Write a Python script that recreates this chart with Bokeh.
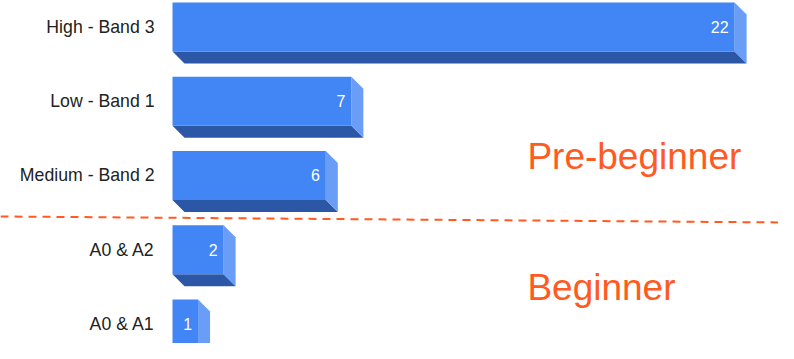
from bokeh.plotting import figure
from bokeh.models import Range1d, ColumnDataSource
from bokeh.core.properties import value
from bokeh.embed import file_html
from bokeh.resources import INLINE

# ---- data ----
categories = ["High - Band 3", "Low - Band 1", "Medium - Band 2", "A0 & A2", "A0 & A1"]
counts = [22, 7, 6, 2, 1]
group_labels = ["Pre-beginner", "Beginner"]

# ---- style ----
FRONT = "#4285F4"
BOTTOM = "#2B57A6"
SIDE = "#699DF6"
ORANGE = "#FF5A1F"
FONT = "Liberation Sans"
H = 0.33      # half height of the front face (row units)
DX = 0.47     # depth in value units
DY = 0.162    # depth in row units
X0, X1 = -6.732, 23.718

W, HGT = 778, 343
p = figure(width=W, height=HGT, output_backend="svg", toolbar_location=None,
           x_range=Range1d(X0, X1), y_range=Range1d(4.263, -0.357),
           min_border=0, outline_line_color=None, background_fill_color="white",
           border_fill_color="white")
p.axis.visible = False
p.grid.visible = False

rows = list(range(len(categories)))

# bottom and side faces
bxs, bys, sxs, sys_ = [], [], [], []
for i, v in zip(rows, counts):
    bxs.append([0, v, v + DX, DX])
    bys.append([i + H, i + H, i + H + DY, i + H + DY])
    sxs.append([v, v + DX, v + DX, v])
    sys_.append([i - H, i - H + DY, i + H + DY, i + H])
p.patches(bxs, bys, fill_color=BOTTOM, line_color=None)
p.patches(sxs, sys_, fill_color=SIDE, line_color=None)

src = ColumnDataSource(dict(cat=categories, v=counts, y=rows,
                            top=[i - H for i in rows], bottom=[i + H for i in rows],
                            lbl=[str(c) for c in counts], zero=[0] * len(rows)))
p.quad(left="zero", right="v", top="top", bottom="bottom", source=src,
       fill_color=FRONT, line_color=None)

# value labels
p.text(x="v", y="y", text="lbl", source=src, x_offset=-6,
       text_align="right", text_baseline="middle", text_color="white",
       text_font=value(FONT), text_font_size="16px")

# category labels
p.text(x="zero", y="y", text="cat", source=src, x_offset=-18,
       text_align="right", text_baseline="middle", text_color="#222222",
       text_font=value(FONT), text_font_size="17.7px")

# separator
p.line(x=[X0, X1], y=[2.552, 2.632], line_color=ORANGE, line_width=2,
       line_dash="8 6")

# group labels
p.text(x=[13.89, 13.89], y=[1.744, 3.509], text=group_labels,
       text_align="left", text_baseline="alphabetic", text_color=ORANGE,
       text_font=value(FONT), text_font_size="37px")

open("out.html", "w").write(file_html(p, INLINE))
